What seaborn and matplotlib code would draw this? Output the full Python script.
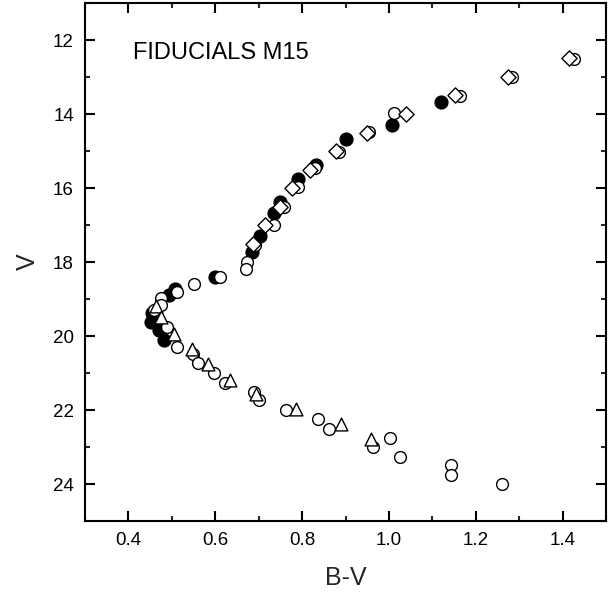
import matplotlib
matplotlib.use("Agg")
import matplotlib.pyplot as plt
import seaborn as sns
from matplotlib.ticker import MultipleLocator

# Filled circles
filled_bv = [1.120, 1.007, 0.902, 0.832, 0.791, 0.748, 0.735, 0.703, 0.684, 0.600,
             0.508, 0.493, 0.455, 0.451, 0.470, 0.482]
filled_v = [13.68, 14.30, 14.68, 15.38, 15.77, 16.37, 16.68, 17.30, 17.72, 18.40,
            18.72, 18.89, 19.39, 19.61, 19.84, 20.10]

# Open circles
open_bv = [1.426, 1.283, 1.163, 1.012, 0.955, 0.886, 0.830, 0.791, 0.758, 0.735,
           0.692, 0.672, 0.670, 0.612, 0.552, 0.511, 0.474, 0.474, 0.458, 0.488,
           0.513, 0.548, 0.561, 0.597, 0.623, 0.690, 0.701, 0.763, 0.836, 0.863,
           0.964, 1.002, 1.025, 1.142, 1.142, 1.260]
open_v = [12.50, 13.00, 13.50, 13.98, 14.48, 15.02, 15.47, 15.96, 16.50, 17.00,
          17.55, 18.00, 18.20, 18.41, 18.60, 18.80, 18.98, 19.16, 19.30, 19.75,
          20.29, 20.49, 20.74, 21.01, 21.26, 21.50, 21.73, 22.00, 22.25, 22.52,
          22.99, 22.77, 23.26, 23.49, 23.76, 24.01]

# Open diamonds
diam_bv = [1.415, 1.274, 1.153, 1.040, 0.949, 0.877, 0.818, 0.777, 0.748, 0.715, 0.686]
diam_v = [12.49, 12.99, 13.49, 14.00, 14.50, 14.99, 15.51, 16.01, 16.50, 17.00, 17.50]

# Open triangles
tri_bv = [0.464, 0.474, 0.505, 0.546, 0.583, 0.633, 0.693, 0.787, 0.889, 0.959]
tri_v = [19.18, 19.48, 19.95, 20.36, 20.77, 21.19, 21.57, 21.97, 22.38, 22.78]

x_ticks = [0.4, 0.6, 0.8, 1.0, 1.2, 1.4]
x_ticklabels = ['0.4', '0.6', '0.8', '1.0', '1.2', '1.4']
y_ticks = [12, 14, 16, 18, 20, 22, 24]
y_ticklabels = ['12', '14', '16', '18', '20', '22', '24']

sns.set_theme(style="ticks")
plt.rcParams['font.family'] = ['Liberation Sans', 'DejaVu Sans']

fig = plt.figure(figsize=(6.11, 5.94), dpi=100)
ax = fig.add_axes([85/611, 1 - 521/594, 521/611, 518/594])

sns.scatterplot(x=filled_bv, y=filled_v, marker='o', s=85, color='black',
                edgecolor='black', linewidth=1.0, ax=ax, zorder=3)
sns.scatterplot(x=open_bv, y=open_v, marker='o', s=72, color='white',
                edgecolor='black', linewidth=1.0, ax=ax, zorder=4)
sns.scatterplot(x=diam_bv, y=diam_v, marker='D', s=60, color='white',
                edgecolor='black', linewidth=1.0, ax=ax, zorder=5)
sns.scatterplot(x=tri_bv, y=tri_v, marker='^', s=85, color='white',
                edgecolor='black', linewidth=1.0, ax=ax, zorder=6)

ax.set_xlim(0.3, 1.5)
ax.set_ylim(25, 11)
ax.xaxis.set_minor_locator(MultipleLocator(0.1))
ax.yaxis.set_minor_locator(MultipleLocator(1))
ax.set_xticks(x_ticks)
ax.set_xticklabels(x_ticklabels)
ax.set_yticks(y_ticks)
ax.set_yticklabels(y_ticklabels)

for sp in ax.spines.values():
    sp.set_visible(True)
    sp.set_linewidth(1.5)
    sp.set_color('black')

ax.tick_params(which='major', direction='in', length=7, width=1.5, top=True, right=True,
               labelsize=13.5, pad=8, colors='black')
ax.tick_params(which='minor', direction='in', length=3.5, width=1.5, top=True, right=True)

ax.set_xlabel('B-V', fontsize=18, labelpad=12)
ax.set_ylabel('V', fontsize=18, labelpad=9)

ax.text(0.092, 0.903, 'FIDUCIALS M15', transform=ax.transAxes, fontsize=17,
        ha='left', va='center', color='black')

fig.savefig('out.png', dpi=100)
